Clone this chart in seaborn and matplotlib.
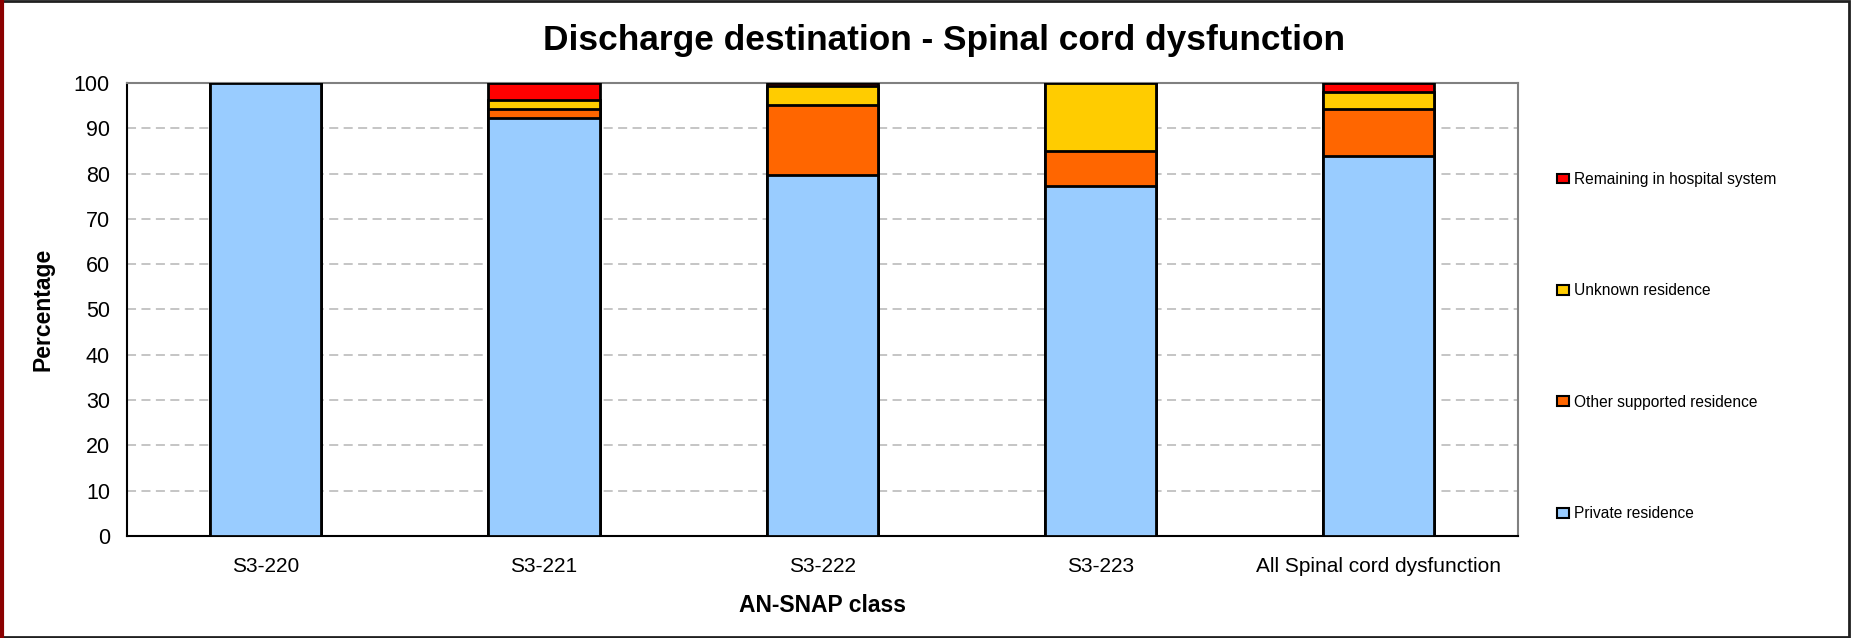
import pandas as pd
import numpy as np
import seaborn as sns
import matplotlib.pyplot as plt
from matplotlib.patches import Patch, Rectangle
from matplotlib.lines import Line2D

# datos
classes = ['S3-220', 'S3-221', 'S3-222', 'S3-223', 'All Spinal cord dysfunction']
private = [100.0, 92.3, 79.6, 77.2, 83.9]
other_supported = [0.0, 1.9, 15.5, 7.7, 10.3]
unknown = [0.0, 2.0, 4.2, 15.1, 3.9]
remaining = [0.0, 3.8, 0.7, 0.0, 1.9]

series_names = ['Private residence', 'Other supported residence',
                'Unknown residence', 'Remaining in hospital system']
colors = ['#99CCFF', '#FF6600', '#FFCC00', '#FF0000']

df = pd.DataFrame({'clase': classes,
                   series_names[0]: private,
                   series_names[1]: other_supported,
                   series_names[2]: unknown,
                   series_names[3]: remaining})
cum = df[series_names].cumsum(axis=1)

sns.set_style('white')
plt.rcParams['font.family'] = ['Liberation Sans', 'DejaVu Sans']
for k in ['text.color', 'axes.labelcolor', 'xtick.color', 'ytick.color']:
    plt.rcParams[k] = 'black'

fig = plt.figure(figsize=(18.51, 6.38), dpi=100)
ax = fig.add_axes([0.0684, 0.160, 0.7516, 0.710])

# apilado: dibujar de la suma total hacia abajo
for name, color in reversed(list(zip(series_names, colors))):
    sns.barplot(x=df['clase'], y=cum[name], color=color, saturation=1, width=0.4,
                edgecolor='black', linewidth=2, ax=ax, zorder=3)

ax.set_ylim(0, 100)
ax.set_xlim(-0.5, len(classes) - 0.5)
ax.set_yticks(range(0, 101, 10))
ax.yaxis.grid(True, linestyle=(0, (5, 3)), color='#c0c0c0', linewidth=1.3, zorder=0)
ax.xaxis.grid(False)
ax.tick_params(axis='y', length=0, labelsize=15.5, pad=12)
ax.tick_params(axis='x', length=0, labelsize=15, pad=15)
for s in ['top', 'right']:
    ax.spines[s].set_color('#808080')
    ax.spines[s].set_linewidth(1.5)
for s in ['left', 'bottom']:
    ax.spines[s].set_color('black')
    ax.spines[s].set_linewidth(1.5)

ax.set_xlabel('AN-SNAP class', fontsize=16.5, fontweight='bold', labelpad=13)
ax.set_ylabel('Percentage', fontsize=16.5, fontweight='bold', labelpad=14)

fig.suptitle('Discharge destination - Spinal cord dysfunction',
             x=0.51, y=0.962, fontsize=25.4, fontweight='bold')

handles = [Patch(facecolor=c, edgecolor='black', linewidth=1.5, label=n)
           for n, c in zip(series_names, colors)]
fig.legend(handles=handles[::-1], loc='center left', bbox_to_anchor=(0.8335, 0.4566),
           frameon=False, prop={'size': 11.2},
           labelspacing=6.2, handlelength=0.8, handleheight=0.6, handletextpad=0.3)

# marco de la figura
fig.patches.append(Rectangle((0.001, 0.002), 0.998, 0.996, transform=fig.transFigure,
                             fill=False, edgecolor='#202020', linewidth=2))
fig.lines.append(Line2D([0.0012, 0.0012], [0, 1], transform=fig.transFigure,
                        color='#8b0000', linewidth=3))

plt.savefig('out.png', dpi=100)
